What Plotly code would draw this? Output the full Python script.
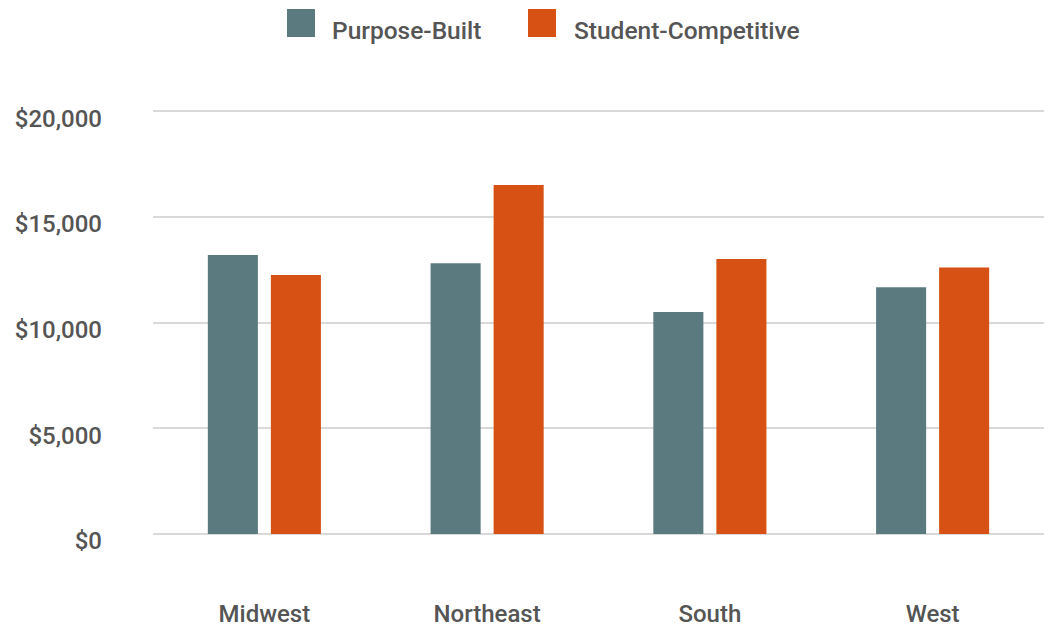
import plotly.graph_objects as go

# Average annual rent by region
regions = ["Midwest", "Northeast", "South", "West"]
purpose_built = [13200, 12800, 10500, 11670]
student_competitive = [12250, 16500, 13000, 12600]

series_names = ["Purpose-Built", "Student-Competitive"]
colors = ["#5B7A80", "#D65113"]
y_ticks = [0, 5000, 10000, 15000, 20000]
y_tick_text = ["$0", "$5,000", "$10,000", "$15,000", "$20,000"]

W, H = 1052, 628
L, R, T, B = 153, 8, 109, 94
font_family = "Roboto, Lato, sans-serif"
text_color = "#555555"
font_size = 24

fig = go.Figure()
for name, vals, col in zip(series_names, [purpose_built, student_competitive], colors):
    fig.add_trace(go.Bar(
        name=name, x=regions, y=vals,
        marker=dict(color=col, line=dict(width=0)),
        showlegend=False,
    ))

# Legend drawn as swatches + labels along the top
pw, ph = W - L - R, H - T - B


def px_x(p):
    return (p - L) / pw


def px_y(p):
    return (H - B - p) / ph


swatch_left = [287, 528]
label_left = [330, 572]
shapes, annotations = [], []
for name, col, sx, lx in zip(series_names, colors, swatch_left, label_left):
    shapes.append(dict(type="rect", xref="paper", yref="paper",
                       x0=px_x(sx), x1=px_x(sx + 28), y0=px_y(37), y1=px_y(9),
                       fillcolor=col, line=dict(width=0)))
    annotations.append(dict(xref="paper", yref="paper", x=px_x(lx), y=px_y(31),
                            xanchor="left", yanchor="middle", showarrow=False,
                            text=name,
                            font=dict(size=24.5, color=text_color,
                                      family=font_family, weight=500)))

fig.update_layout(
    template="none",
    width=W, height=H,
    margin=dict(l=L, r=R, t=T, b=B, pad=0, autoexpand=False),
    paper_bgcolor="white", plot_bgcolor="white",
    barmode="group", bargap=0.434, bargroupgap=0.206,
    font=dict(family=font_family, color=text_color, size=font_size, weight=500),
    shapes=shapes, annotations=annotations,
    xaxis=dict(automargin=False, showgrid=False, showline=False, zeroline=False,
               ticks="", tickfont=dict(size=font_size, color=text_color, weight=500),
               ticklabelstandoff=63),
    yaxis=dict(automargin=False, range=[0, 20100], tickvals=y_ticks, ticktext=y_tick_text,
               showgrid=True, gridcolor="#D9D9D9", gridwidth=2,
               zeroline=True, zerolinecolor="#D9D9D9", zerolinewidth=2,
               showline=False, ticks="",
               tickfont=dict(size=font_size, color=text_color, weight=500),
               ticklabelstandoff=50, ticklabelshift=7),
)

fig.write_html("out.html")
